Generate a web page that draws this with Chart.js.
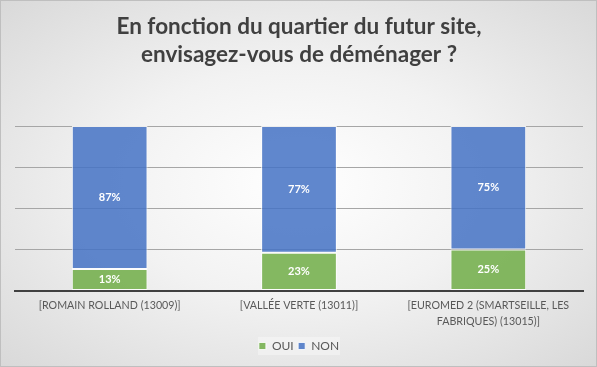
<!DOCTYPE html>
<html><head><meta charset="utf-8">
<script src="https://cdn.jsdelivr.net/npm/chart.js@4"></script>
<style>
html,body{margin:0;padding:0;}
#wrap{position:absolute;left:0;top:0;width:595px;height:365px;border:1px solid #bfbfbf;
background:radial-gradient(ellipse at center,#ffffff 0%,#f2f2f2 45%,#d9d9d9 100%);}
canvas{display:block;}
</style></head><body>
<div id="wrap"><canvas id="c" width="595" height="365"></canvas></div>
<script>
const categories = [
  ["[ROMAIN ROLLAND (13009)]"],
  ["[VALLÉE VERTE (13011)]"],
  ["[EUROMED 2 (SMARTSEILLE, LES", "FABRIQUES) (13015)]"]
];
const seriesNames = ["OUI", "NON"];
const oui = [13, 23, 25];
const non = [87, 77, 75];
const titleLines = ["En fonction du quartier du futur site,", "envisagez-vous de déménager ?"];

const labelPlugin = {
  id: 'segLabels',
  afterDatasetsDraw(chart) {
    const ctx = chart.ctx;
    ctx.save();
    ctx.fillStyle = '#ffffff';
    ctx.font = 'bold 11px Lato';
    ctx.textAlign = 'center';
    ctx.textBaseline = 'middle';
    chart.data.datasets.forEach((ds, i) => {
      chart.getDatasetMeta(i).data.forEach((bar, j) => {
        const p = bar.getProps(['x','y','base'], true);
        ctx.fillText(ds.data[j] + '%', p.x, (p.y + p.base) / 2);
      });
    });
    ctx.restore();
  }
};
const legendBg = {
  id: 'legendBg',
  beforeDraw(chart) {
    const l = chart.legend;
    if (!l || !l.legendItems) return;
    const ctx = chart.ctx;
    const w = 82, h = 18;
    const cx = (l.left + l.right) / 2;
    ctx.save();
    ctx.fillStyle = 'rgba(255,255,255,0.35)';
    ctx.fillRect(cx - w / 2, 336, w, h);
    ctx.restore();
  }
};

new Chart(document.getElementById('c'), {
  type: 'bar',
  data: {
    labels: categories,
    datasets: [
      { label: seriesNames[0], data: oui, backgroundColor: 'rgba(112,173,71,0.85)', borderColor: 'rgba(255,255,255,0.8)', borderWidth: 1, borderSkipped: false },
      { label: seriesNames[1], data: non, backgroundColor: 'rgba(68,114,196,0.85)', borderColor: 'rgba(255,255,255,0.8)', borderWidth: 1, borderSkipped: false }
    ]
  },
  options: {
    responsive: false,
    animation: false,
    layout: { padding: { left: 14, right: 13, top: 5, bottom: 4 } },
    datasets: { bar: { categoryPercentage: 1, barPercentage: 0.4 } },
    plugins: {
      title: {
        display: true, text: titleLines, color: '#404040',
        font: { family: 'Lato', size: 22.5, weight: 'bold', lineHeight: '28px' },
        padding: { top: 7, bottom: 57 }
      },
      legend: {
        position: 'bottom',
        labels: { boxWidth: 7, boxHeight: 7, color: '#595959', font: { family: 'Lato', size: 12 }, padding: 4.5 }
      },
      tooltip: { enabled: false }
    },
    scales: {
      x: {
        stacked: true,
        grid: { display: false, drawTicks: false },
        border: { display: true, color: '#404040', width: 2 },
        ticks: { color: '#595959', font: { family: 'Lato', size: 10.7, lineHeight: '16px' }, maxRotation: 0, autoSkip: false, padding: 7 },
        afterFit(scale) { scale.height = 45; }
      },
      y: {
        stacked: true, min: 0, max: 100,
        ticks: { display: false, stepSize: 25 },
        grid: { color: '#a6a6a6', drawTicks: false },
        border: { display: false }
      }
    }
  },
  plugins: [legendBg, labelPlugin]
});
</script>
</body></html>
